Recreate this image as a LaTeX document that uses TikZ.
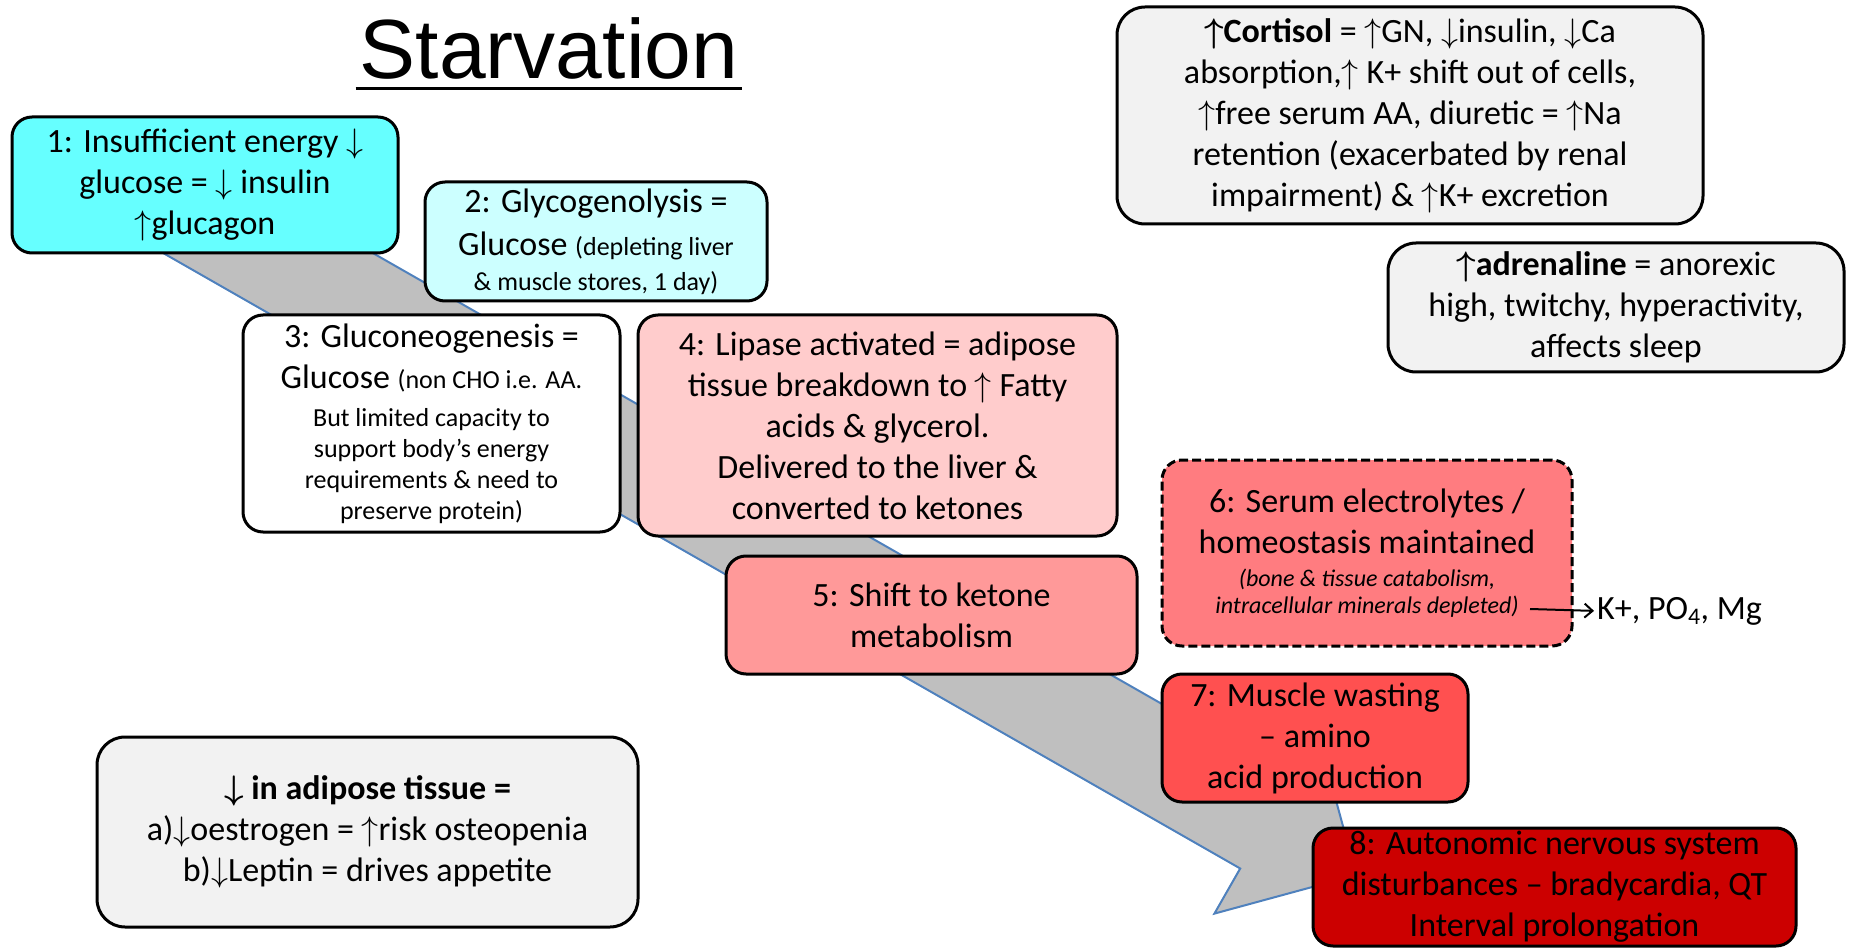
\RequirePackage{fix-cm}
\documentclass[tikz,border=0pt]{standalone}
\usepackage{fontspec}
\setmainfont{Carlito}
\newfontfamily\titlesans{Liberation Sans}
\usetikzlibrary{arrows.meta}
\definecolor{stageone}{RGB}{102,255,255}
\definecolor{stagetwo}{RGB}{204,255,255}
\definecolor{stagefour}{RGB}{255,204,204}
\definecolor{stagefive}{RGB}{255,153,153}
\definecolor{stagesix}{RGB}{255,124,128}
\definecolor{stageseven}{RGB}{255,80,80}
\definecolor{stageeight}{RGB}{204,0,0}
\definecolor{notegray}{RGB}{242,242,242}
\definecolor{arrowgray}{RGB}{191,191,191}
\definecolor{arrowblue}{RGB}{79,129,189}
\newcommand{\bodyfont}{\fontsize{34}{41}\selectfont}
\newcommand{\notefont}{\fontsize{26}{31}\selectfont}
\newcommand{\itnote}{\fontsize{24}{27}\selectfont\itshape}
\newcommand{\arrup}{$\uparrow$}
\newcommand{\arrdn}{$\downarrow$}
\tikzstyle{stage} = [draw, line width=3pt, rounded corners=20pt, align=center, inner sep=0pt, font=\bodyfont]
\tikzstyle{sidenote} = [stage, fill=notegray, rounded corners=28pt]
\tikzstyle{bigarrow} = [fill=arrowgray, draw=arrowblue, line width=2pt, line join=miter]
\tikzstyle{arrow} = [line width=2pt, -{Straight Barb[length=8pt,width=14pt]}]

\begin{document}
\begin{tikzpicture}[x=1pt,y=-1pt]
\useasboundingbox[fill=white] (0,0) rectangle (1852,949);

% the big grey arrow behind the stages
\draw[bigarrow] (93.6,213.3) -- (1240.2,868.5) -- (1214.4,913.6) -- (1356.3,875.0)
  -- (1317.6,733.1) -- (1291.8,778.2) -- (145.2,123.0) -- cycle;

\node[font=\titlesans\fontsize{84}{100}\selectfont, inner sep=0pt, anchor=base] (title) at (549,79) {Starvation};
\draw[line width=3pt] ([xshift=-4pt,yshift=-10pt]title.base west) -- ([xshift=4pt,yshift=-10pt]title.base east);

\node[stage, fill=stageone, minimum width=386pt, minimum height=136pt] (energy) at (205,185)
  {1: Insufficient energy \arrdn\\glucose = \arrdn{} insulin\\\arrup glucagon};
\node[stage, fill=stagetwo, minimum width=342pt, minimum height=119pt] (glycogen) at (596,241.5)
  {2: Glycogenolysis =\\[2pt]Glucose {\notefont (depleting liver}\\[-6pt]{\notefont \& muscle stores, 1 day)}};
\node[stage, fill=white, minimum width=377pt, minimum height=217pt] (gluconeo) at (431.5,423.5)
  {3: Gluconeogenesis =\\Glucose {\notefont (non CHO i.e. AA.}\\[-3pt]{\notefont But limited capacity to}\\[-10pt]{\notefont support body's energy}\\[-10pt]{\notefont requirements \& need to}\\[-10pt]{\notefont preserve protein)}};
\node[stage, fill=stagefour, minimum width=479pt, minimum height=221pt] (lipase) at (877.5,425.5)
  {4: Lipase activated = adipose\\tissue breakdown to \arrup{} Fatty\\acids \& glycerol.\\Delivered to the liver \&\\converted to ketones};
\node[stage, fill=stagefive, minimum width=411pt, minimum height=118pt] (ketone) at (931.5,615)
  {5: Shift to ketone\\metabolism};
\node[stage, fill=stagesix, dash pattern=on 9pt off 4pt, minimum width=410pt, minimum height=186pt] (serum) at (1367,553)
  {6: Serum electrolytes /\\homeostasis maintained\\[-8pt]{\itnote (bone \& tissue catabolism,}\\[-14pt]{\itnote intracellular minerals depleted)}};
\node[stage, fill=stageseven, minimum width=306pt, minimum height=128pt] (muscle) at (1315,738)
  {7: Muscle wasting\\-- amino\\acid production};
\node[stage, fill=stageeight, minimum width=483pt, minimum height=118pt] (autonomic) at (1554.5,887)
  {8: Autonomic nervous system\\disturbances -- bradycardia, QT\\Interval prolongation};

\coordinate (depleted) at (1530,609);
\node[font=\bodyfont, inner sep=0pt, anchor=base west] (minerals) at (1597,619) {K+, PO\textsubscript{4}, Mg};
\draw[arrow] (depleted) -- ([xshift=-3pt]minerals.west);

\node[sidenote, minimum width=586pt, minimum height=217pt] (cortisol) at (1410,115.5)
  {{\bfseries\boldmath\arrup Cortisol} = \arrup GN, \arrdn insulin, \arrdn Ca\\absorption,\arrup{} K+ shift out of cells,\\\arrup free serum AA, diuretic = \arrup Na\\retention (exacerbated by renal\\impairment) \& \arrup K+ excretion};
\node[sidenote, minimum width=456pt, minimum height=129pt] (adrenaline) at (1616,307.5)
  {{\bfseries\boldmath\arrup adrenaline} = anorexic\\high, twitchy, hyperactivity,\\affects sleep};
\node[sidenote, minimum width=541pt, minimum height=190pt] (adipose) at (367.5,832)
  {{\bfseries\boldmath\arrdn{} in adipose tissue =}\\a)\arrdn oestrogen = \arrup risk osteopenia\\b)\arrdn Leptin = drives appetite};
\end{tikzpicture}
\end{document}
